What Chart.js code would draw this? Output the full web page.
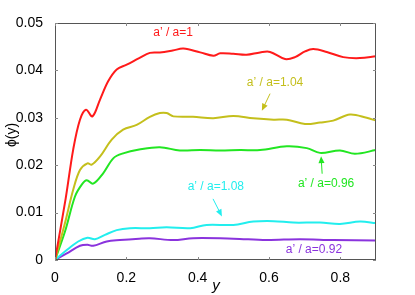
<!DOCTYPE html>
<html>
<head>
<meta charset="utf-8">
<script src="https://cdn.jsdelivr.net/npm/chart.js@4/dist/chart.umd.min.js"></script>
<style>
  html, body { margin: 0; padding: 0; background: #fff; }
</style>
</head>
<body>
<canvas id="phiChart" width="415" height="295"></canvas>
<script>
// values
var xTicks = [0, 0.2, 0.4, 0.6, 0.8];
var yTicks = [0, 0.01, 0.02, 0.03, 0.04, 0.05];

var redX = [0, 0.03, 0.051, 0.07, 0.087, 0.105, 0.126, 0.149, 0.173, 0.201, 0.236, 0.266, 0.294, 0.33, 0.36, 0.407, 0.444, 0.463, 0.5, 0.537, 0.575, 0.603, 0.645, 0.673, 0.701, 0.724, 0.762, 0.808, 0.855, 0.9];
var redY = [0, 0.013, 0.0233, 0.0296, 0.0317, 0.0303, 0.0338, 0.0377, 0.0402, 0.0412, 0.0426, 0.0437, 0.0438, 0.0442, 0.0446, 0.0438, 0.0431, 0.0436, 0.0435, 0.0433, 0.0438, 0.0439, 0.0424, 0.0428, 0.044, 0.0445, 0.0439, 0.0428, 0.0426, 0.043];

var oliveX = [0, 0.028, 0.051, 0.07, 0.091, 0.103, 0.126, 0.159, 0.191, 0.229, 0.266, 0.294, 0.313, 0.332, 0.387, 0.444, 0.5, 0.556, 0.613, 0.65, 0.701, 0.743, 0.78, 0.827, 0.874, 0.9];
var oliveY = [0, 0.0078, 0.0148, 0.019, 0.0204, 0.0201, 0.0218, 0.0254, 0.0275, 0.0285, 0.0302, 0.031, 0.031, 0.0303, 0.0302, 0.0299, 0.0304, 0.0299, 0.0296, 0.0296, 0.0287, 0.029, 0.0294, 0.0307, 0.03, 0.0294];

var greenX = [0, 0.028, 0.056, 0.075, 0.089, 0.107, 0.135, 0.164, 0.191, 0.236, 0.294, 0.35, 0.407, 0.463, 0.519, 0.575, 0.65, 0.706, 0.743, 0.799, 0.841, 0.9];
var greenY = [0, 0.006, 0.0134, 0.0159, 0.0168, 0.0161, 0.0183, 0.0215, 0.0225, 0.0233, 0.0238, 0.0231, 0.0232, 0.0231, 0.0232, 0.0232, 0.024, 0.0236, 0.0226, 0.0231, 0.0224, 0.0232];

var cyanX = [0, 0.033, 0.065, 0.091, 0.112, 0.14, 0.173, 0.21, 0.266, 0.313, 0.379, 0.425, 0.5, 0.556, 0.613, 0.668, 0.743, 0.799, 0.855, 0.9];
var cyanY = [0, 0.0021, 0.0039, 0.0047, 0.0044, 0.0053, 0.0063, 0.0067, 0.0067, 0.0069, 0.0067, 0.0074, 0.0074, 0.0081, 0.0082, 0.0079, 0.0079, 0.0076, 0.0081, 0.0078];

var purpleX = [0, 0.033, 0.07, 0.091, 0.107, 0.145, 0.182, 0.236, 0.266, 0.332, 0.387, 0.5, 0.593, 0.687, 0.78, 0.9];
var purpleY = [0, 0.0014, 0.003, 0.0032, 0.003, 0.0039, 0.0042, 0.0045, 0.0046, 0.0042, 0.0046, 0.0045, 0.0042, 0.0044, 0.0042, 0.0041];

function pts(xs, ys) {
    return xs.map(function(x, i) { return { x: x, y: ys[i] }; });
}

function line(data, color) {
    return {
        data: data,
        borderColor: color,
        borderWidth: 2,
        pointRadius: 0,
        fill: false,
        tension: 0.35
    };
}

// labels and arrows, positioned in data units
var notes = [
    { text: 'a\u2019 / a=1',    x: 0.331, y: 0.048,  color: '#ff1a1a' },
    { text: 'a\u2019 / a=1.04', x: 0.617, y: 0.0374, color: '#c4bf1c', arrow: [0.603, 0.0351, 0.58, 0.0315] },
    { text: 'a\u2019 / a=0.96', x: 0.76,  y: 0.0161, color: '#22e622', arrow: [0.749, 0.0182, 0.746, 0.0219] },
    { text: 'a\u2019 / a=1.08', x: 0.451, y: 0.0154, color: '#22eeee', arrow: [0.443, 0.0129, 0.468, 0.0092] },
    { text: 'a\u2019 / a=0.92', x: 0.726, y: 0.0021, color: '#8a33dd' }
];

var framePlugin = {
    id: 'frame',
    afterDatasetsDraw: function(chart) {
        var c = chart.ctx, a = chart.chartArea;
        var xs = chart.scales.x, ys = chart.scales.y;
        c.save();
        c.strokeStyle = '#555';
        c.lineWidth = 1;
        c.strokeRect(a.left + 0.5, a.top + 0.5, a.right - a.left - 1, a.bottom - a.top - 1);
        c.strokeStyle = '#888';
        c.beginPath();
        xTicks.forEach(function(v) {
            var px = Math.round(xs.getPixelForValue(v)) + 0.5;
            c.moveTo(px, a.bottom); c.lineTo(px, a.bottom - 3);
            c.moveTo(px, a.top); c.lineTo(px, a.top + 3);
        });
        yTicks.forEach(function(v) {
            var py = Math.round(ys.getPixelForValue(v)) + 0.5;
            c.moveTo(a.left, py); c.lineTo(a.left + 3, py);
            c.moveTo(a.right, py); c.lineTo(a.right - 3, py);
        });
        c.stroke();

        c.font = '12px "Liberation Sans", Arial, sans-serif';
        c.textAlign = 'center';
        c.textBaseline = 'middle';
        notes.forEach(function(n) {
            c.fillStyle = n.color;
            c.fillText(n.text, xs.getPixelForValue(n.x), ys.getPixelForValue(n.y));
            if (n.arrow) {
                var x1 = xs.getPixelForValue(n.arrow[0]), y1 = ys.getPixelForValue(n.arrow[1]);
                var x2 = xs.getPixelForValue(n.arrow[2]), y2 = ys.getPixelForValue(n.arrow[3]);
                var ang = Math.atan2(y2 - y1, x2 - x1);
                c.strokeStyle = n.color;
                c.lineWidth = 1;
                c.beginPath();
                c.moveTo(x1, y1);
                c.lineTo(x2 - 4 * Math.cos(ang), y2 - 4 * Math.sin(ang));
                c.stroke();
                c.beginPath();
                c.moveTo(x2, y2);
                c.lineTo(x2 - 7 * Math.cos(ang) + 3 * Math.sin(ang), y2 - 7 * Math.sin(ang) - 3 * Math.cos(ang));
                c.lineTo(x2 - 7 * Math.cos(ang) - 3 * Math.sin(ang), y2 - 7 * Math.sin(ang) + 3 * Math.cos(ang));
                c.closePath();
                c.fill();
            }
        });

        // axis titles
        c.fillStyle = '#000';
        c.font = 'italic 15px "Liberation Sans", Arial, sans-serif';
        c.fillText('y', (a.left + a.right) / 2 + 0.5, 286);
        c.translate(12, 135);
        c.rotate(-Math.PI / 2);
        c.font = '14px "Liberation Sans", Arial, sans-serif';
        c.fillText('\u03d5(y)', 0, 0);
        c.restore();
    }
};

var tickFont = { family: '"Liberation Sans", Arial, sans-serif', size: 14 };

new Chart(document.getElementById('phiChart').getContext('2d'), {
    type: 'line',
    data: {
        datasets: [
            line(pts(redX, redY), '#ff1a1a'),
            line(pts(oliveX, oliveY), '#c4bf1c'),
            line(pts(greenX, greenY), '#22e622'),
            line(pts(cyanX, cyanY), '#22eeee'),
            line(pts(purpleX, purpleY), '#8a33dd')
        ]
    },
    options: {
        responsive: false,
        animation: false,
        layout: { padding: { left: 0, right: 39, top: 23, bottom: 0 } },
        plugins: { legend: { display: false }, tooltip: { enabled: false } },
        scales: {
            x: {
                type: 'linear',
                min: 0,
                max: 0.9,
                grid: { display: false },
                border: { display: false },
                afterBuildTicks: function(s) { s.ticks = xTicks.map(function(v) { return { value: v }; }); },
                afterFit: function(s) { s.height = 35; },
                ticks: {
                    color: '#000',
                    font: tickFont,
                    padding: 2,
                    maxRotation: 0,
                    callback: function(v) { return String(Math.round(v * 10) / 10); }
                }
            },
            y: {
                min: 0,
                max: 0.05,
                grid: { display: false },
                border: { display: false },
                afterBuildTicks: function(s) { s.ticks = yTicks.map(function(v) { return { value: v }; }); },
                afterFit: function(s) { s.width = 55; },
                ticks: {
                    color: '#000',
                    font: tickFont,
                    padding: 4,
                    callback: function(v) { return String(Math.round(v * 100) / 100); }
                }
            }
        }
    },
    plugins: [framePlugin]
});
</script>
</body>
</html>
